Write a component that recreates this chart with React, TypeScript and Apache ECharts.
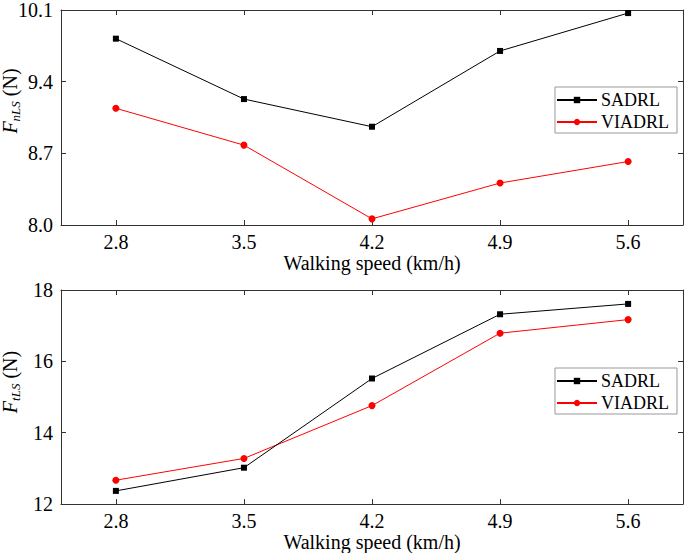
import React, { useEffect, useRef } from "react";
import * as echarts from "echarts";

const speeds = [2.8, 3.5, 4.2, 4.9, 5.6];
const seriesNames = ["SADRL", "VIADRL"];
const fnSADRL = [9.82, 9.23, 8.96, 9.7, 10.07];
const fnVIADRL = [9.14, 8.78, 8.06, 8.41, 8.62];
const ftSADRL = [12.37, 13.02, 15.52, 17.32, 17.61];
const ftVIADRL = [12.67, 13.28, 14.76, 16.79, 17.17];
const fnTicks = [8.0, 8.7, 9.4, 10.1];
const ftTicks = [12, 14, 16, 18];
const xTitle = "Walking speed (km/h)";

const FONT = "Liberation Serif";
const AXIS_COLOR = "#333";
const CSS = "svg text, svg tspan { font-family: 'Liberation Serif', 'DejaVu Serif', serif !important; }";

function pairs(xs: number[], ys: number[]) {
  return xs.map((x, i) => [x, ys[i]]);
}

export default function App() {
  const ref = useRef<HTMLDivElement>(null);
  useEffect(() => {
    if (!ref.current) return;
    const chart = echarts.init(ref.current, undefined, { renderer: "svg" });

    const grids = [
      { left: 61, right: 2, top: 10, height: 215 },
      { left: 61, right: 2, top: 290, height: 215 },
    ];

    const xAxisBase = (gridIndex: number, position: "bottom" | "top", showLabel: boolean) => ({
      type: "value",
      gridIndex,
      position,
      min: 2.5,
      max: 5.9,
      name: showLabel ? xTitle : "",
      nameLocation: "middle",
      nameGap: 25,
      nameTextStyle: { fontFamily: FONT, fontSize: 20, color: "#000" },
      axisLine: { show: true, onZero: false, lineStyle: { color: AXIS_COLOR, width: 1 } },
      axisTick: {
        show: true,
        inside: true,
        length: 5,
        customValues: speeds,
        lineStyle: { color: AXIS_COLOR },
      },
      axisLabel: {
        show: showLabel,
        customValues: speeds,
        margin: 7,
        fontFamily: FONT,
        fontSize: 20,
        color: "#000",
        formatter: (v: number) => v.toFixed(1),
      },
      splitLine: { show: false },
    });

    const yAxisBase = (
      gridIndex: number,
      position: "left" | "right",
      showLabel: boolean,
      min: number,
      max: number,
      ticks: number[],
      digits: number
    ) => ({
      type: "value",
      gridIndex,
      position,
      min,
      max,
      axisLine: { show: true, onZero: false, lineStyle: { color: AXIS_COLOR, width: 1 } },
      axisTick: {
        show: true,
        inside: true,
        length: 5,
        customValues: ticks,
        lineStyle: { color: AXIS_COLOR },
      },
      axisLabel: {
        show: showLabel,
        customValues: ticks,
        margin: 8,
        fontFamily: FONT,
        fontSize: 20,
        color: "#000",
        formatter: (v: number) => v.toFixed(digits),
      },
      splitLine: { show: false },
    });

    const lineSeries = (name: string, xi: number, yi: number, ys: number[]) => {
      const isBlack = name === seriesNames[0];
      const color = isBlack ? "#000000" : "#ff0000";
      return {
        type: "line",
        name,
        xAxisIndex: xi,
        yAxisIndex: yi,
        data: pairs(speeds, ys),
        symbol: isBlack ? "rect" : "circle",
        symbolSize: isBlack ? 6 : 7,
        showSymbol: true,
        lineStyle: { color, width: 1 },
        itemStyle: { color },
        z: isBlack ? 3 : 2,
      };
    };

    const legendBase = (top: number) => ({
      orient: "vertical",
      left: 555,
      top,
      data: seriesNames,
      itemWidth: 40,
      itemHeight: 8,
      itemGap: 4,
      padding: [4, 8, 2, 1],
      borderColor: "#999",
      borderWidth: 1,
      textStyle: { fontFamily: FONT, fontSize: 18, color: "#000", padding: [0, 0, 0, -1] },
      itemStyle: { borderWidth: 0 },
    });

    const yLabel = (cy: number, sub: string) => ({
      type: "text",
      x: 11,
      y: cy,
      rotation: Math.PI / 2,
      style: {
        text: `{f|F}{s|${sub}}{n| (N)}`,
        align: "center",
        verticalAlign: "middle",
        fill: "#000",
        rich: {
          f: { fontFamily: FONT, fontSize: 20, fontStyle: "italic", fill: "#000", lineHeight: 22, verticalAlign: "top" },
          s: {
            fontFamily: FONT,
            fontSize: 13,
            fontStyle: "italic",
            fill: "#000",
            lineHeight: 13,
            verticalAlign: "bottom",
          },
          n: { fontFamily: FONT, fontSize: 20, fill: "#000", lineHeight: 22, verticalAlign: "top" },
        },
      },
    });

    chart.setOption({
      animation: false,
      backgroundColor: "#fff",
      textStyle: { fontFamily: FONT },
      grid: grids,
      xAxis: [
        xAxisBase(0, "bottom", true),
        xAxisBase(0, "top", false),
        xAxisBase(1, "bottom", true),
        xAxisBase(1, "top", false),
      ],
      yAxis: [
        yAxisBase(0, "left", true, 8.0, 10.1, fnTicks, 1),
        yAxisBase(0, "right", false, 8.0, 10.1, fnTicks, 1),
        yAxisBase(1, "left", true, 12, 18, ftTicks, 0),
        yAxisBase(1, "right", false, 12, 18, ftTicks, 0),
      ],
      legend: [legendBase(87), legendBase(368)],
      series: [
        lineSeries(seriesNames[0], 0, 0, fnSADRL),
        lineSeries(seriesNames[1], 0, 0, fnVIADRL),
        lineSeries(seriesNames[0], 2, 2, ftSADRL),
        lineSeries(seriesNames[1], 2, 2, ftVIADRL),
      ],
      graphic: [yLabel(101, "nLS"), yLabel(382, "tLS")],
    });

    return () => chart.dispose();
  }, []);

  return (
    <>
      <style>{CSS}</style>
      <div
        ref={ref}
        style={{ position: "absolute", left: 0, top: 0, width: 685, height: 553, background: "#fff" }}
      />
    </>
  );
}
